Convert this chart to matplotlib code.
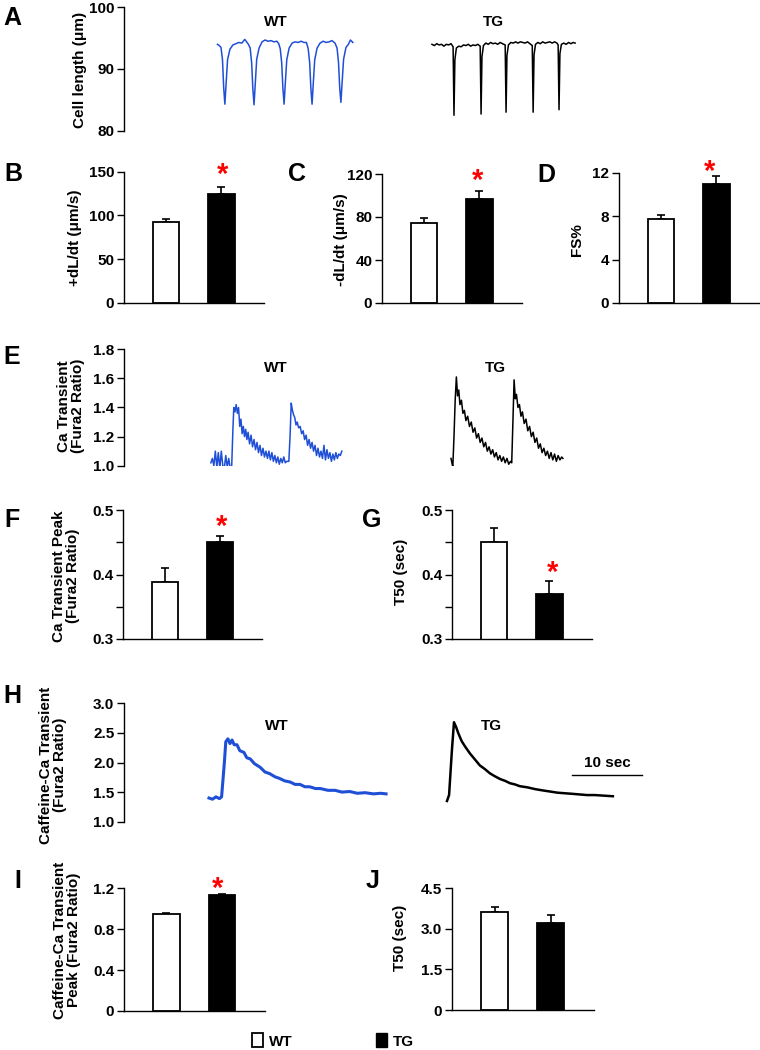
import matplotlib
matplotlib.use('Agg')
import matplotlib.pyplot as plt
from matplotlib.patches import Patch

plt.rcParams['font.family'] = ['Liberation Sans', 'DejaVu Sans']
plt.rcParams['font.weight'] = 'bold'

# ---------------- data ----------------
groups = ['WT', 'TG']

# A: cell shortening traces (time in beats, cell length in um)
wt_len_t = [0.00, 0.06, 0.12, 0.17, 0.21, 0.25, 0.29, 0.34, 0.42, 0.52, 0.62, 0.72, 0.82, 0.92, 0.98,
            1.04, 1.10, 1.15, 1.19, 1.23, 1.27, 1.32, 1.40, 1.50, 1.60, 1.70, 1.80, 1.90, 2.00,
            2.06, 2.11, 2.16, 2.20, 2.24, 2.28, 2.33, 2.41, 2.51, 2.61, 2.71, 2.81, 2.91, 2.99,
            3.05, 3.10, 3.14, 3.18, 3.22, 3.27, 3.35, 3.45, 3.55, 3.65, 3.75, 3.85, 3.95,
            4.02, 4.07, 4.11, 4.15, 4.19, 4.24, 4.32, 4.40, 4.47, 4.55]
wt_len_y = [94.0, 93.8, 93.5, 91.5, 87.0, 84.3, 87.5, 91.5, 93.2, 93.9, 94.1, 94.3, 94.2, 94.8, 94.4,
            94.0, 93.4, 91.0, 86.8, 84.2, 87.5, 91.6, 93.4, 94.4, 94.7, 94.5, 94.6, 94.4, 94.5,
            94.1, 93.3, 91.0, 86.9, 84.3, 87.6, 91.5, 93.4, 94.2, 94.4, 94.3, 94.5, 94.3, 94.3,
            93.3, 91.0, 86.9, 84.3, 87.6, 91.5, 93.4, 94.2, 94.5, 94.3, 94.4, 94.6, 94.2,
            93.4, 91.0, 86.9, 84.6, 87.8, 91.6, 93.5, 94.0, 94.7, 94.3]
tg_len_t = [0.00, 0.08, 0.16, 0.24, 0.32, 0.40, 0.48, 0.56, 0.64, 0.71, 0.74, 0.77, 0.82, 0.90, 0.98,
            1.06, 1.14, 1.22, 1.30, 1.38, 1.46, 1.54, 1.62, 1.65, 1.68, 1.73, 1.81, 1.89, 1.97,
            2.05, 2.13, 2.21, 2.29, 2.37, 2.46, 2.49, 2.52, 2.57, 2.65, 2.73, 2.81, 2.89, 2.97,
            3.05, 3.13, 3.21, 3.29, 3.37, 3.40, 3.43, 3.48, 3.56, 3.64, 3.72, 3.80, 3.88, 3.96,
            4.04, 4.12, 4.20, 4.24, 4.27, 4.30, 4.35, 4.43, 4.51, 4.59, 4.67, 4.75, 4.81]
tg_len_y = [94.0, 93.8, 94.1, 93.9, 94.0, 93.7, 94.0, 93.9, 94.1, 93.6, 82.5, 91.5, 93.4, 93.7, 93.6,
            93.9, 93.8, 94.0, 93.7, 93.9, 93.8, 94.0, 93.7, 82.7, 92.0, 93.8, 94.2, 94.0, 94.3,
            94.1, 94.2, 94.0, 94.3, 94.1, 93.9, 83.0, 92.2, 93.9, 94.3, 94.2, 94.4, 94.2, 94.4,
            94.3, 94.2, 94.4, 94.1, 93.8, 83.0, 92.3, 94.0, 94.3, 94.1, 94.4, 94.2, 94.3, 94.4,
            94.2, 94.4, 94.2, 93.9, 83.4, 92.5, 94.0, 94.2, 94.0, 94.3, 94.1, 94.3, 94.2]

# E: Ca transient traces (Fura2 ratio)
wt_ca_t = [0.00, 0.05, 0.10, 0.15, 0.20, 0.25, 0.30, 0.35, 0.40, 0.45, 0.50, 0.55, 0.60, 0.65, 0.70,
           0.74, 0.77, 0.81, 0.85, 0.89, 0.93, 0.97, 1.01, 1.05, 1.09, 1.13, 1.17, 1.21, 1.25,
           1.30, 1.35, 1.40, 1.45, 1.50, 1.55, 1.60, 1.65, 1.70, 1.75, 1.80, 1.85, 1.90, 1.95,
           2.00, 2.05, 2.10, 2.15, 2.20, 2.25, 2.30, 2.35, 2.40, 2.45, 2.50, 2.55, 2.62,
           2.66, 2.70, 2.74, 2.78, 2.82, 2.86, 2.90, 2.95, 3.00, 3.05, 3.10, 3.15, 3.20, 3.25,
           3.30, 3.35, 3.40, 3.45, 3.50, 3.55, 3.60, 3.65, 3.70, 3.75, 3.80, 3.85, 3.90, 3.95,
           4.00, 4.05, 4.10, 4.15, 4.20, 4.25, 4.30, 4.35, 4.40]
wt_ca_y = [1.02, 1.05, 1.00, 1.10, 0.99, 1.09, 0.98, 1.10, 1.00, 0.98, 1.07, 0.99, 1.05, 0.98, 1.00,
           1.25, 1.40, 1.37, 1.42, 1.36, 1.40, 1.27, 1.32, 1.22, 1.27, 1.20, 1.25, 1.18, 1.23,
           1.15, 1.21, 1.13, 1.18, 1.11, 1.16, 1.09, 1.14, 1.07, 1.12, 1.06, 1.10, 1.05, 1.10,
           1.04, 1.09, 1.03, 1.07, 1.02, 1.06, 1.01, 1.05, 1.02, 1.06, 1.02, 1.03, 1.03,
           1.20, 1.43, 1.38, 1.35, 1.33, 1.28, 1.30, 1.26, 1.27, 1.22, 1.24, 1.18, 1.21, 1.14,
           1.18, 1.12, 1.16, 1.10, 1.14, 1.07, 1.12, 1.06, 1.10, 1.05, 1.14, 1.04, 1.11, 1.05,
           1.09, 1.03, 1.08, 1.04, 1.09, 1.05, 1.08, 1.07, 1.10]
tg_ca_t = [0.00, 0.03, 0.06, 0.10, 0.14, 0.18, 0.22, 0.26, 0.30, 0.35, 0.40, 0.45, 0.50, 0.56, 0.62,
           0.68, 0.74, 0.80, 0.86, 0.92, 0.98, 1.04, 1.10, 1.16, 1.22, 1.28, 1.34, 1.40, 1.46,
           1.52, 1.58, 1.64, 1.70, 1.76, 1.82, 1.88, 1.94, 2.00, 2.04, 2.08, 2.12, 2.16, 2.20,
           2.25, 2.30, 2.35, 2.40, 2.46, 2.52, 2.58, 2.64, 2.70, 2.76, 2.82, 2.88, 2.94, 3.00,
           3.06, 3.12, 3.18, 3.24, 3.30, 3.36, 3.42, 3.48, 3.54, 3.60, 3.66, 3.72, 3.76]
tg_ca_y = [1.05, 1.02, 0.99, 1.20, 1.45, 1.61, 1.48, 1.52, 1.42, 1.45, 1.36, 1.38, 1.31, 1.34, 1.27,
           1.30, 1.23, 1.26, 1.19, 1.22, 1.16, 1.19, 1.13, 1.16, 1.10, 1.13, 1.08, 1.11, 1.06,
           1.09, 1.04, 1.07, 1.03, 1.06, 1.02, 1.05, 1.01, 1.03, 1.02, 1.30, 1.59, 1.46, 1.49,
           1.40, 1.42, 1.34, 1.37, 1.29, 1.32, 1.24, 1.27, 1.20, 1.23, 1.16, 1.19, 1.12, 1.15,
           1.09, 1.12, 1.07, 1.10, 1.05, 1.09, 1.04, 1.08, 1.03, 1.07, 1.04, 1.06, 1.05]

# H: caffeine-induced Ca transient traces (time in s)
wt_caf_t = [0.0, 0.5, 1.0, 1.5, 1.8, 2.2, 2.4, 2.7, 3.0, 3.3, 3.6, 4.0, 4.4, 5.0, 5.4, 5.9, 6.5, 7.3,
            8.0, 8.7, 9.4, 10.1, 10.8, 11.6, 12.3, 13.0, 13.7, 14.4, 15.2, 15.9, 17.0, 18.0, 19.0,
            20.1, 21.2, 22.3, 23.5, 24.5, 25.3]
wt_caf_y = [1.40, 1.38, 1.42, 1.39, 1.42, 2.00, 2.35, 2.40, 2.32, 2.38, 2.30, 2.30, 2.20, 2.17, 2.08,
            2.06, 1.98, 1.92, 1.84, 1.81, 1.76, 1.73, 1.69, 1.67, 1.63, 1.63, 1.59, 1.59, 1.56,
            1.56, 1.53, 1.53, 1.50, 1.51, 1.48, 1.49, 1.47, 1.48, 1.47]
tg_caf_t = [0.0, 0.3, 0.7, 1.0, 1.3, 1.6, 2.1, 2.7, 3.3, 4.0, 4.7, 5.4, 6.1, 6.8, 7.6, 8.3, 9.0,
            9.7, 10.4, 11.5, 12.6, 13.6, 14.7, 15.8, 16.9, 18.0, 19.0, 20.0, 21.1, 22.4, 23.7]
tg_caf_y = [1.35, 1.45, 2.20, 2.68, 2.60, 2.50, 2.36, 2.25, 2.15, 2.05, 1.95, 1.89, 1.82, 1.77, 1.72,
            1.69, 1.65, 1.63, 1.60, 1.58, 1.55, 1.53, 1.51, 1.49, 1.48, 1.47, 1.46, 1.45, 1.45,
            1.44, 1.43]

# bar panels: mean and SEM (WT, TG)
plus_dldt = [92, 124]
plus_dldt_err = [4.5, 8]
minus_dldt = [74, 97]
minus_dldt_err = [5, 7]
fs_pct = [7.8, 11.0]
fs_pct_err = [0.35, 0.7]
ca_peak = [0.389, 0.45]
ca_peak_err = [0.021, 0.01]
ca_t50 = [0.45, 0.37]
ca_t50_err = [0.022, 0.02]
caf_peak = [0.95, 1.13]
caf_peak_err = [0.008, 0.01]
caf_t50 = [3.6, 3.2]
caf_t50_err = [0.2, 0.3]

# ---------------- layout helpers (pixel coordinates) ----------------
W, H = 760, 1050
fig = plt.figure(figsize=(W / 100, H / 100), dpi=100)
blue = '#1f4fd6'


def box(left, top, right, bottom):
    return [left / W, 1 - bottom / H, (right - left) / W, (bottom - top) / H]


def fxy(x, y):
    return x / W, 1 - y / H


def style(ax, bottom=True):
    ax.spines['top'].set_visible(False)
    ax.spines['right'].set_visible(False)
    ax.spines['bottom'].set_visible(bottom)
    ax.spines['left'].set_linewidth(1.0)
    ax.spines['bottom'].set_linewidth(1.0)
    ax.tick_params(axis='y', direction='out', length=5, width=1, pad=2, labelsize=11)
    ax.set_xticks([])
    ax.patch.set_alpha(0)


def bar_panel(rect, vals, errs, ylim, ticks, ticklabels):
    ax = fig.add_axes(rect)
    x = [0, 1]
    ax.errorbar(x, vals, yerr=[[0, 0], errs], fmt='none', ecolor='black',
                elinewidth=1.2, capsize=3, capthick=1.2, zorder=1)
    ax.bar(x, vals, width=0.48, color=['white', 'black'], edgecolor='black',
           linewidth=1.3, zorder=2)
    ax.set_xlim(-0.76, 1.77)
    ax.set_ylim(*ylim)
    ax.set_yticks(ticks)
    ax.set_yticklabels(ticklabels)
    style(ax)
    return ax


def star(x, y):
    # y is the visual centre of the asterisk in pixels
    fig.text(*fxy(x, y + 16.5), '*', color='red', fontsize=21, ha='center', va='baseline')


def ylab(x, y, s, size=11):
    fig.text(*fxy(x, y), s, rotation=90, ha='center', va='center', fontsize=size,
             multialignment='center', linespacing=1.0)


def letter(x, y, s):
    fig.text(*fxy(x, y), s, ha='center', va='center', fontsize=18)


def trace_label(x, y, s):
    fig.text(*fxy(x, y), s, ha='center', va='center', fontsize=11)


# ---------------- A ----------------
axA = fig.add_axes(box(124, 7.3, 684, 130.7))
axA.plot([t + 3.14 for t in wt_len_t], wt_len_y, color=blue, lw=1.1)
axA.plot([t + 10.35 for t in tg_len_t], tg_len_y, color='black', lw=1.1)
axA.set_xlim(0, 18.82)
axA.set_ylim(80, 100)
axA.set_yticks([80, 90, 100])
style(axA, bottom=False)
letter(12, 18, 'A')
ylab(80, 70, 'Cell length (μm)')
trace_label(276, 22, 'WT')
trace_label(493, 22, 'TG')

# ---------------- B, C, D ----------------
bar_panel(box(124, 171.7, 264, 303), plus_dldt, plus_dldt_err, (0, 150), [0, 50, 100, 150],
          ['0', '50', '100', '150'])
letter(13, 174, 'B')
ylab(75, 238, '+dL/dt (μm/s)')
star(223, 166)

bar_panel(box(382, 174, 522, 303), minus_dldt, minus_dldt_err, (0, 120), [0, 40, 80, 120],
          ['0', '40', '80', '120'])
letter(297, 174, 'C')
ylab(341, 240, '-dL/dt (μm/s)')
star(478, 172)

bar_panel(box(619, 173, 759, 303), fs_pct, fs_pct_err, (0, 12), [0, 4, 8, 12],
          ['0', '4', '8', '12'])
letter(546, 175, 'D')
ylab(577, 240, 'FS%')
star(710, 163)

# ---------------- E ----------------
axE = fig.add_axes(box(124, 349.3, 684, 465.7))
axE.plot([t + 2.92 for t in wt_ca_t], wt_ca_y, color=blue, lw=1.1)
axE.plot([t + 10.99 for t in tg_ca_t], tg_ca_y, color='black', lw=1.1)
axE.set_xlim(0, 18.82)
axE.set_ylim(1.0, 1.8)
axE.set_yticks([1.0, 1.2, 1.4, 1.6, 1.8])
axE.set_yticklabels(['1.0', '1.2', '1.4', '1.6', '1.8'])
style(axE, bottom=False)
letter(12, 357, 'E')
ylab(71, 406, 'Ca Transient\n(Fura2 Ratio)')
trace_label(276, 368, 'WT')
trace_label(495, 368, 'TG')

# ---------------- F, G ----------------
bar_panel(box(123, 510.3, 262, 638.7), ca_peak, ca_peak_err, (0.3, 0.5),
          [0.3, 0.35, 0.4, 0.45, 0.5], ['0.3', '', '0.4', '', '0.5'])
letter(12, 520, 'F')
ylab(66, 576, 'Ca Transient Peak\n(Fura2 Ratio)')
star(221.7, 518)

bar_panel(box(452, 510.3, 592, 638.7), ca_t50, ca_t50_err, (0.3, 0.5),
          [0.3, 0.35, 0.4, 0.45, 0.5], ['0.3', '', '0.4', '', '0.5'])
letter(372, 520, 'G')
ylab(401, 572, 'T50 (sec)')
star(553, 564)

# ---------------- H ----------------
axH = fig.add_axes(box(124, 703.3, 684, 821.7))
axH.plot([t + 12.14 for t in wt_caf_t], wt_caf_y, color=blue, lw=2.2)
axH.plot([t + 46.14 for t in tg_caf_t], tg_caf_y, color='black', lw=1.8)
axH.plot([64.0, 74.0], [1.79, 1.79], color='black', lw=1.0)
axH.text(69.0, 1.99, '10 sec', ha='center', va='center', fontsize=11)
axH.set_xlim(0, 80)
axH.set_ylim(1.0, 3.0)
axH.set_yticks([1.0, 1.5, 2.0, 2.5, 3.0])
axH.set_yticklabels(['1.0', '1.5', '2.0', '2.5', '3.0'])
style(axH, bottom=False)
letter(12, 696, 'H')
ylab(53, 765, 'Caffeine-Ca Transient\n(Fura2 Ratio)')
trace_label(277, 726, 'WT')
trace_label(491, 726, 'TG')

# ---------------- I, J ----------------
bar_panel(box(124, 888.3, 265, 1011), caf_peak, caf_peak_err, (0, 1.2),
          [0, 0.4, 0.8, 1.2], ['0', '0.4', '0.8', '1.2'])
letter(18, 881, 'I')
ylab(67, 940, 'Caffeine-Ca Transient\nPeak (Fura2 Ratio)')
star(218, 880)

bar_panel(box(452, 888, 594, 1010), caf_t50, caf_t50_err, (0, 4.5),
          [0, 1.5, 3.0, 4.5], ['0', '1.5', '3.0', '4.5'])
letter(373, 881, 'J')
ylab(400, 938, 'T50 (sec)')

# ---------------- legend ----------------
handles = [Patch(facecolor='white', edgecolor='black', linewidth=1.3),
           Patch(facecolor='black', edgecolor='black')]
fig.legend(handles, groups, loc='center', bbox_to_anchor=fxy(333, 1041), ncol=2, frameon=False,
           handlelength=0.7, handleheight=1.0, handletextpad=0.4, columnspacing=5.5, fontsize=11)

fig.savefig('out.png', dpi=100)
